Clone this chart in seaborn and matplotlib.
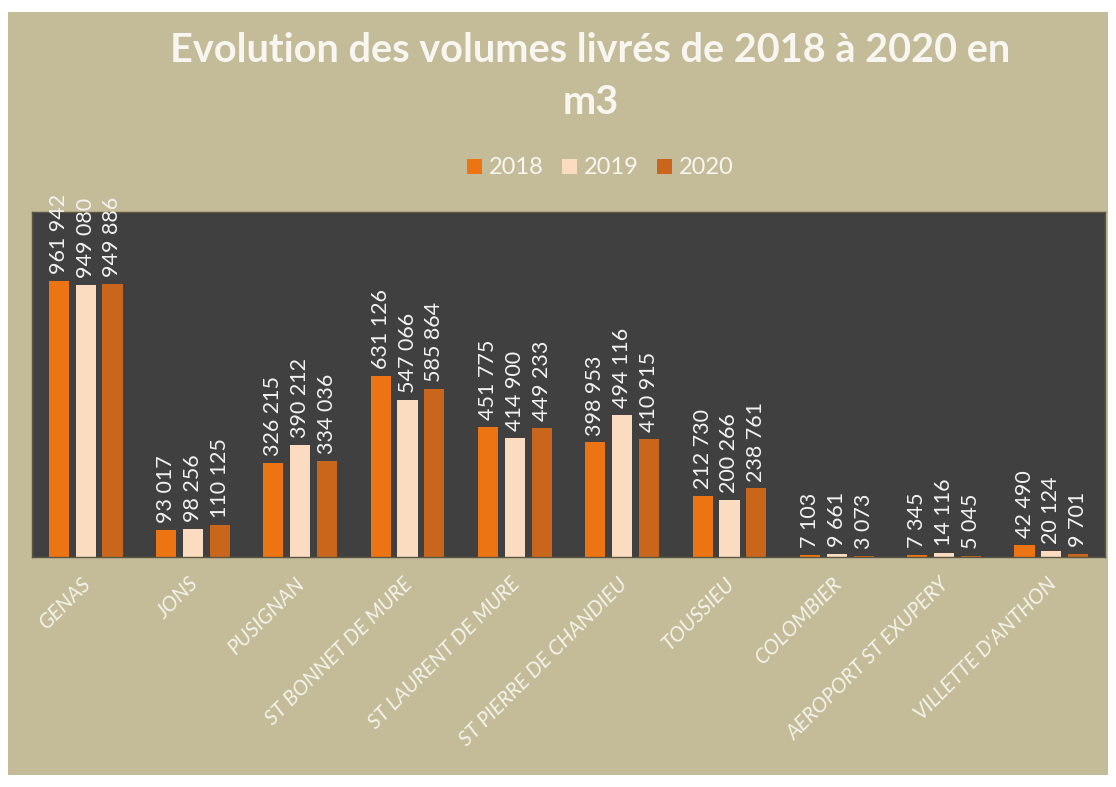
import matplotlib
matplotlib.use("Agg")
import matplotlib.pyplot as plt
import seaborn as sns
import pandas as pd
from matplotlib.patches import Rectangle, Patch
import matplotlib.transforms as mtrans

communes = ["GENAS", "JONS", "PUSIGNAN", "ST BONNET DE MURE", "ST LAURENT DE MURE",
            "ST PIERRE DE CHANDIEU", "TOUSSIEU", "COLOMBIER", "AEROPORT ST EXUPERY",
            "VILLETTE D'ANTHON"]
years = ["2018", "2019", "2020"]
v2018 = [961942, 93017, 326215, 631126, 451775, 398953, 212730, 7103, 7345, 42490]
v2019 = [949080, 98256, 390212, 547066, 414900, 494116, 200266, 9661, 14116, 20124]
v2020 = [949886, 110125, 334036, 585864, 449233, 410915, 238761, 3073, 5045, 9701]

colors = ["#ec7412", "#fcdcc0", "#c9661c"]

df = pd.DataFrame({
    "commune": communes * 3,
    "annee": [y for y in years for _ in communes],
    "volume": v2018 + v2019 + v2020,
})

sns.set_theme(style="white")
plt.rcParams["font.family"] = ["Lato", "DejaVu Sans"]

fig = plt.figure(figsize=(11.16, 7.87), dpi=100)
fig.patch.set_facecolor("white")
fig.patches.append(Rectangle((8 / 1116, 1 - 775 / 787), (1108 - 8) / 1116, (775 - 12) / 787,
                             transform=fig.transFigure, facecolor="#c4bc98",
                             edgecolor="none", zorder=-10))

ax = fig.add_axes([32 / 1116, 1 - 557 / 787, (1105 - 32) / 1116, (557 - 212) / 787])
ax.set_facecolor("#404040")

sns.barplot(data=df, x="commune", y="volume", hue="annee", order=communes,
            hue_order=years, palette=colors, width=0.75, gap=0.25, ax=ax,
            legend=False, saturation=1, edgecolor="none")

ax.set_ylim(0, 1_202_000)
ax.set_xlim(-0.5, len(communes) - 0.5)
ax.set_yticks([])
ax.set_xlabel("")
ax.set_ylabel("")
for s in ax.spines.values():
    s.set_visible(True)
    s.set_color("#5a5642")
    s.set_linewidth(1)

def fmt(v):
    return f"{v:,}".replace(",", " ")

for cont in ax.containers:
    ax.bar_label(cont, labels=[fmt(int(b.get_height())) for b in cont],
                 rotation=90, padding=5, color="#f2f2f2", fontsize=15.5)

ax.set_xticks(range(len(communes)))
ax.set_xticklabels(communes, rotation=45, ha="right", rotation_mode="anchor",
                   color="#f4f2ea", fontsize=15, style="italic")
ax.tick_params(axis="x", length=0, pad=12)
offset = mtrans.ScaledTranslation(-5 / 100, 0, fig.dpi_scale_trans)
for lab in ax.get_xticklabels():
    lab.set_transform(lab.get_transform() + offset)

fig.text(0.529, 1 - 76 / 787, "Evolution des volumes livrés de 2018 à 2020 en\nm3",
         ha="center", va="center", fontsize=28.5, fontweight="bold", color="#f7f6f0",
         linespacing=1.5)

handles = [Patch(facecolor=c, edgecolor="none") for c in colors]
fig.legend(handles, years, loc="center", bbox_to_anchor=(0.538, 1 - 168 / 787),
           ncol=3, frameon=False, fontsize=17, labelcolor="#f7f6f0",
           handlelength=0.6, handleheight=0.6, handletextpad=0.3, columnspacing=0.8)

fig.savefig("out.png", dpi=100, facecolor=fig.get_facecolor())
